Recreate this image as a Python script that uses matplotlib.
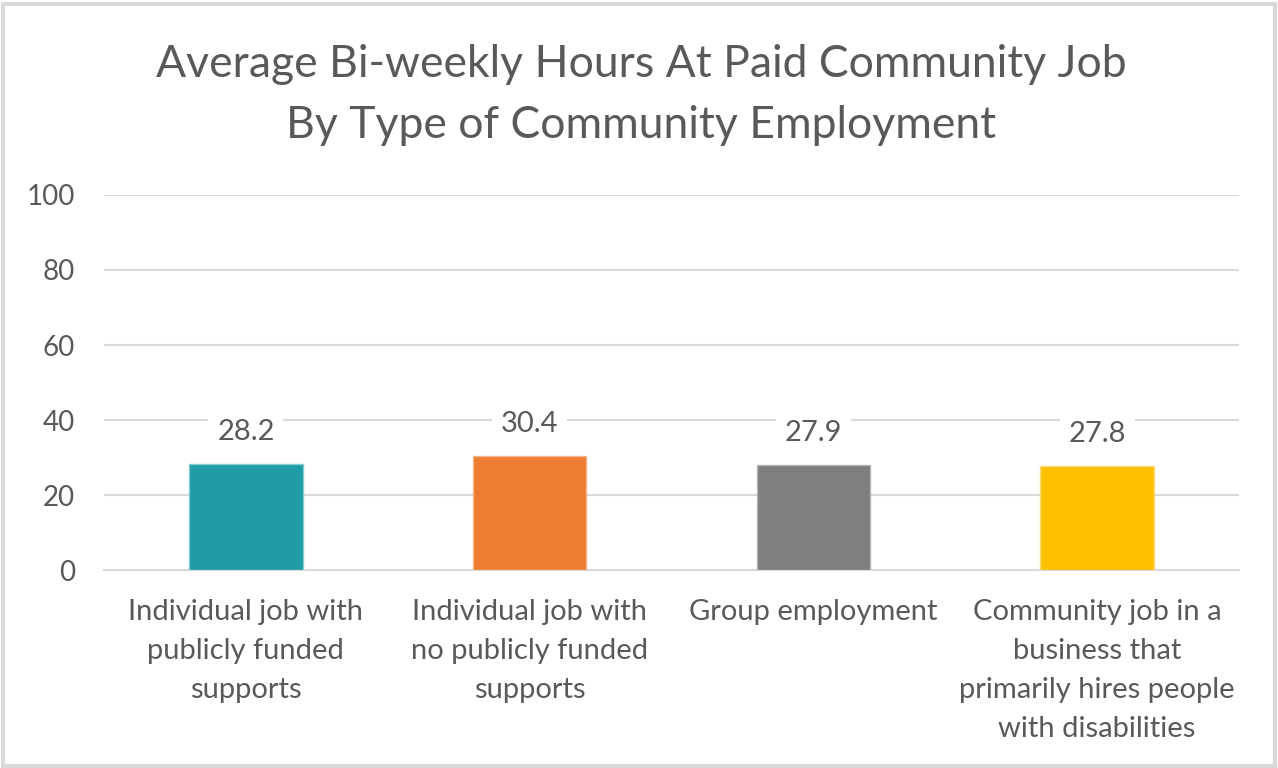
import matplotlib.pyplot as plt
from matplotlib.patches import Rectangle

plt.rcParams["font.family"] = ["Lato", "DejaVu Sans"]

title = "Average Bi-weekly Hours At Paid Community Job\nBy Type of Community Employment"
categories = [
    "Individual job with\npublicly funded\nsupports",
    "Individual job with\nno publicly funded\nsupports",
    "Group employment",
    "Community job in a\nbusiness that\nprimarily hires people\nwith disabilities",
]
hours = [28.2, 30.4, 27.9, 27.8]
bar_colors = ["#219CA6", "#ED7D31", "#7F7F7F", "#FFC000"]
edge_colors = ["#7FCDD3", "#F6B48A", "#B5B5B5", "#FFDC80"]
y_ticks = [0, 20, 40, 60, 80, 100]

text_color = "#595959"
grid_color = "#D9D9D9"

fig = plt.figure(figsize=(12.78, 7.68), dpi=100)
ax = fig.add_axes([0.0814, 0.2578, 0.888, 0.4883])

x = list(range(len(categories)))
ax.bar(x, hours, width=0.4, color=bar_colors, edgecolor=edge_colors,
       linewidth=1.0, zorder=3)
for xi, val in zip(x, hours):
    ax.annotate(f"{val:.1f}", (xi, val), xytext=(0, 23), textcoords="offset points",
                ha="center", va="center", fontsize=21, color=text_color,
                bbox=dict(boxstyle="square,pad=0.3", fc="white", ec="none"), zorder=4)

ax.set_xlim(-0.5, len(categories) - 0.5)
ax.set_ylim(0, 100)
ax.set_yticks(y_ticks)
ax.set_yticklabels([str(t) for t in y_ticks], fontsize=20, color=text_color)
ax.set_xticks(x)
ax.set_xticklabels(categories, fontsize=21, color=text_color, linespacing=1.62, va="top")
ax.tick_params(axis="both", length=0)
ax.tick_params(axis="x", pad=21)
ax.tick_params(axis="y", pad=21)
ax.grid(True, axis="y", color=grid_color, linewidth=1.5, zorder=0)
for side in ["top", "right", "left"]:
    ax.spines[side].set_visible(False)
ax.spines["bottom"].set_color(grid_color)
ax.spines["bottom"].set_linewidth(1.5)

fig.text(0.502, 0.943, title, ha="center", va="top", fontsize=32,
         color=text_color, linespacing=1.6)

fig.patches.append(Rectangle((0.002, 0.002), 0.996, 0.993, transform=fig.transFigure,
                             fill=False, edgecolor="#D9D9D9", linewidth=3))

fig.savefig("out.png", dpi=100)
